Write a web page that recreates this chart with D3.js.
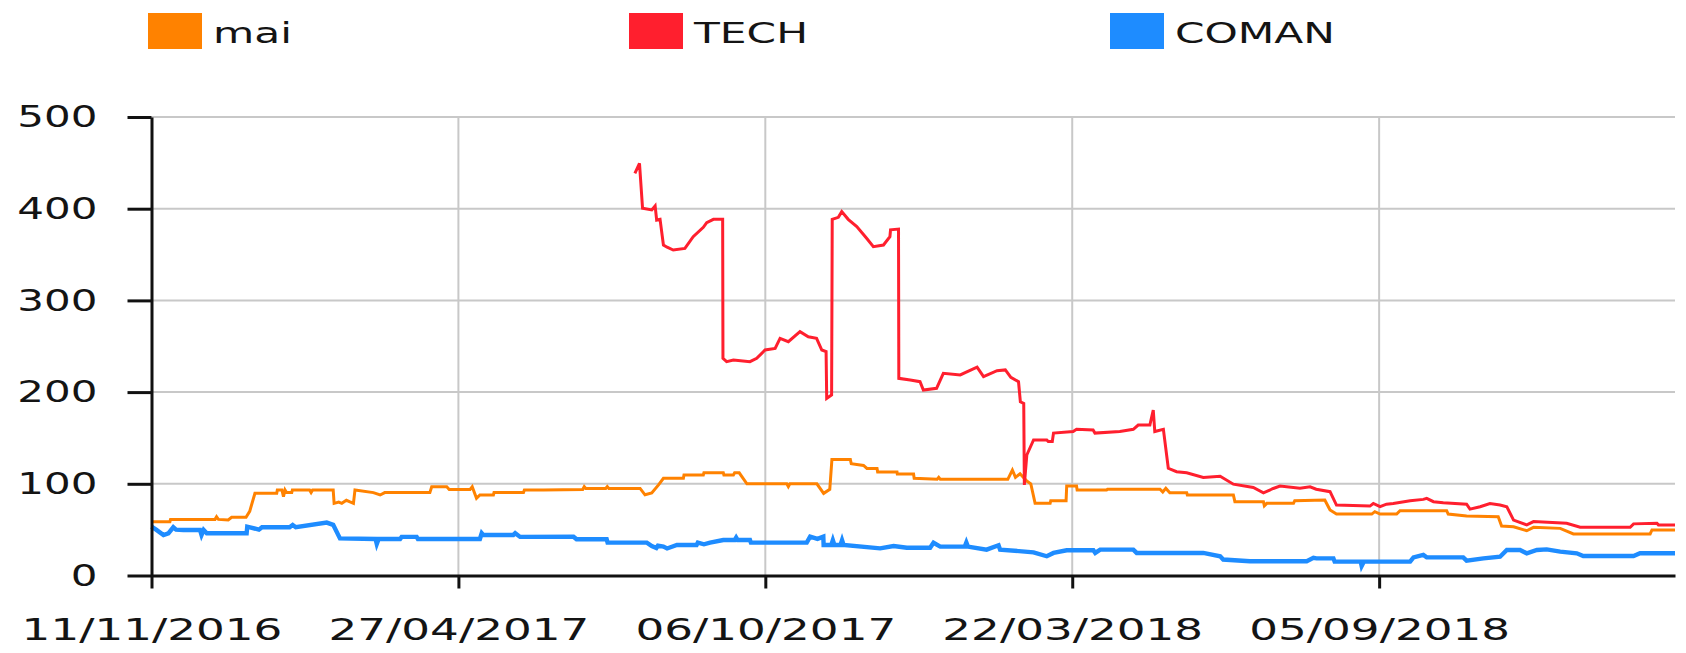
<!DOCTYPE html>
<html>
<head>
<meta charset="utf-8">
<script src="https://cdn.jsdelivr.net/npm/d3@7"></script>
<style>
  html, body { margin: 0; padding: 0; background: #fff; }
  svg { display: block; }
  text { font-family: "DejaVu Sans", Verdana, sans-serif; fill: #141414; }
</style>
</head>
<body>
<svg id="chart" width="1686" height="653"></svg>
<script>
// ---- data (x = trading-day index, y = value) ----
const seriesNames = ["mai", "TECH", "COMAN"];
const seriesColors = ["#ff8200", "#ff1f2e", "#1e8cff"];

const xTickIndex = [0, 100, 200, 300, 400];
const xTickLabels = ["11/11/2016", "27/04/2017", "06/10/2017", "22/03/2018", "05/09/2018"];
const yTicks = [0, 100, 200, 300, 400, 500];
const xMaxIndex = 496.4;

const maiValues = [
  [0,58.7],[6,58.7],[6.2,61.2],[20.7,61.2],[21.2,64],[21.8,61.2],[25,60.5],[26.1,63.4],[30.8,63.4],[32,70],
  [33.7,89.6],[40.8,89.6],[41,93.3],[42.5,93.3],[43,86],[43.5,93.3],[44,90.4],[45.7,90.4],[45.9,93.3],[51.5,93.3],
  [52,90.4],[52.5,93.3],[59.2,93.3],[59.5,78.7],[61,80],[62,78.7],[63.5,82],[64.5,80.5],[65.8,78.7],[66.3,93.3],
  [72.3,90.4],[74.5,87.8],[76,90.4],[90.7,90.4],[91.3,96.8],[96.2,96.8],[97,93.9],[103.8,93.9],[104.5,96.8],
  [105.9,84.2],[107,87.8],[111.4,87.8],[111.6,90.4],[121.2,90.4],[121.5,93.3],[127.7,93.2],[140.5,93.9],
  [141,97],[141.5,95],[148,95],[148.5,97],[149,95],[159.2,95],[160.8,88],[163,90],[165.2,98.8],[166.8,106],
  [173.3,106],[173.5,109.6],[179.8,109.6],[180,112.1],[186.3,112.1],[186.5,109.6],[189.6,109.6],[190,112],
  [191.5,112],[194,100],[207,100],[207.5,97],[208,100],[216.8,100],[219,89.6],[221,94],[221.7,126.6],
  [227.7,126.6],[228,122],[232,120],[233.1,116.8],[236.4,116.8],[236.6,113],[242.9,113],[243,110.6],
  [248.3,110.6],[248.5,106],[256,105],[256.5,107],[257,105],[279,104.9],[280.5,115],[281.5,107],[283,111],
  [285.2,103],[286.5,100],[287.9,78.7],[292.8,78.7],[293,81.6],[298,81.6],[298.2,97.7],[301.4,97.7],
  [301.6,93.2],[311.2,93.2],[311.5,94],[328.6,94],[329.5,91],[330.5,95],[331.8,90.3],[337.3,90.3],
  [337.5,87.8],[352.5,87.8],[353,80.5],[362.3,80.5],[362.6,76],[363.4,78.7],[372.1,78.7],[372.5,81.6],
  [382.3,82.3],[384,71.4],[386.1,67],[397.6,67],[398.6,69.6],[400.3,67],[405.7,67],[406.8,70.7],[422,70.7],
  [422.5,67],[428.5,64.8],[438.8,64.1],[439.9,53.9],[443.8,53.2],[448.1,48.8],[450.3,52.5],[459,51.4],
  [463.3,45.3],[488.3,45.3],[488.9,49.7],[496.4,49.7]
];

const techValues = [
  [157.5,438.6],[159,449.5],[160,400.4],[163,398.6],[164.1,403],[164.6,387.6],[165.7,388.4],[166.8,360.4],
  [168,358],[170,354.9],[173.8,356.7],[176.5,369.5],[179.8,379.7],[180.9,384.8],[183.1,388.4],[186.1,388.4],
  [186.2,236.8],[187.4,233.2],[189.6,235],[195,233.2],[197.2,236.8],[199.9,245.9],[203.2,247.7],[204.8,258.6],
  [207.5,255],[211.3,265.9],[214,260.4],[216.7,258.6],[218.4,245.9],[219.8,244.1],[220,193.2],[221.6,196.9],
  [221.8,388.4],[223.8,390.6],[224.9,396.8],[227,388.4],[229.8,380.5],[233,367.7],[235.2,358.6],[238.5,360.4],
  [240.6,369.5],[240.8,377],[243.4,377.8],[243.5,215],[247.2,213.2],[250.4,211.4],[251.5,202.2],[255.8,204.1],
  [258,220.5],[263.5,218.7],[269,227.1],[271.1,216.8],[275.5,223.4],[278.2,224.2],[280,216],[282.5,211.3],
  [283.1,189.5],[284.2,187.7],[284.4,98.7],[285.2,131.4],[287.4,147.8],[291.7,147.8],[292.2,146],[293.5,146],
  [293.9,155.3],[300.3,157],[301.4,159.4],[306.8,158.7],[307.4,155.3],[315.5,157],[319.9,159.4],[321.5,164.1],
  [325.3,164.1],[326.4,180.5],[326.9,157],[329.7,159.4],[331.3,116.9],[334,113.2],[337.3,112],[342.7,106.9],
  [348.2,108.3],[352.5,99.6],[359,96],[362.3,90.2],[365.5,94.9],[367.7,97.5],[374.2,95.1],[377.5,96.8],
  [379.5,94.1],[384,91.4],[386.1,76.8],[397,75.7],[398.1,78.5],[400.3,75],[402.4,77.8],[404.6,78.5],
  [410.1,81.6],[414.4,83],[415.5,84.1],[417.7,80.5],[420.9,79.4],[428.5,77.8],[429.6,72.4],[432.9,75],
  [436.1,78.5],[439.4,76.8],[441.6,75],[443.8,60.4],[448.1,55.2],[450.3,58.8],[461.1,57],[465.5,52.6],
  [481.8,52.6],[482.9,56.3],[490.5,57],[491,55.2],[496.4,55.2]
];

const comanValues = [
  [0,53.3],[1.5,50],[3.9,44.2],[5.5,46],[7.1,52.6],[8,50],[10.4,49.7],[15.8,49.7],[16.3,44.2],[17,49.7],
  [18,46.1],[31,46.1],[31.2,53.3],[32.1,52.6],[35,50],[36,52.6],[45,52.6],[46,55],[47,52.6],[57.1,57.7],
  [59.2,55.2],[61.4,40.5],[73,39.8],[73.4,34.4],[74,39.8],[81,39.8],[81.5,42.1],[86.4,42.1],[86.8,39.8],
  [107,39.8],[107.6,46.1],[108.1,44.2],[117.9,44.2],[118.5,46.1],[120.1,42.1],[137.5,42.3],[138.5,39.5],
  [148.3,39.5],[148.6,35.8],[161.4,35.8],[163,32.2],[164.5,30],[165,32.5],[166.8,31.5],[168,29.5],
  [171.2,33.3],[177.6,33.3],[178,35.8],[180,34],[182,35.8],[186.3,38.7],[190,38.7],[190.5,41.5],[191,38.7],
  [195,38.7],[195.3,35.8],[213.5,35.8],[214.6,42.3],[217,40],[218.9,42.3],[219,33.3],[221.5,33.3],[222,38.5],
  [222.5,33.3],[224.5,33.3],[225,38.5],[225.5,33.3],[237.4,29.6],[241.8,32.2],[246.1,30.3],[253.7,30.3],
  [254.8,35.7],[257,31.5],[265,31.5],[265.5,36],[266,31.5],[272.1,28.2],[276,33],[276.5,28.2],[287.4,25.3],
  [291.7,21],[293.9,24.6],[298.2,27.5],[306.9,27.5],[307.5,24.6],[309.1,28.2],[319.9,28.2],[321,24.6],
  [342.7,24.6],[348.2,21],[349.2,17.4],[357.9,15.6],[376.4,15.6],[378.6,19.2],[379.6,18.7],[385.1,18.7],
  [385.5,15.1],[394,15.1],[394.3,10.4],[395,15.1],[410.1,15.1],[411.2,19.8],[414.4,22.4],[415.5,19.8],
  [427.4,19.8],[428.5,16.2],[434,18.7],[439.4,20.5],[441.6,27.8],[445.9,27.8],[448.1,24.2],[451.4,27.8],
  [454.6,28.5],[459,26],[464.4,24.2],[466.5,21.3],[482.9,21.3],[485,24.2],[496.4,24.2]
];

const allSeries = [maiValues, techValues, comanValues];

// ---- layout ----
const svg = d3.select("#chart");
const TX = 1.46; // horizontal text stretch seen in the reference
const TY = 1.40; // stretch for the y tick labels
const x = d3.scaleLinear().domain([0, xMaxIndex]).range([151.5, 1675]);
const y = d3.scaleLinear().domain([0, 500]).range([575.5, 117]);

// gridlines
const grid = svg.append("g");
grid.selectAll("line.h").data(yTicks.filter(d => d > 0)).join("line")
  .attr("x1", x(0)).attr("x2", x(xMaxIndex))
  .attr("y1", d => y(d)).attr("y2", d => y(d))
  .attr("stroke", "#c8c8c8").attr("stroke-width", 2);
grid.selectAll("line.v").data(xTickIndex.filter(d => d > 0)).join("line")
  .attr("x1", d => x(d)).attr("x2", d => x(d))
  .attr("y1", y(0)).attr("y2", y(500))
  .attr("stroke", "#c8c8c8").attr("stroke-width", 2);

// lines
const line = d3.line().x(d => x(d[0])).y(d => y(d[1]));
const widths = [3, 3, 4.4];
allSeries.forEach((s, i) => {
  svg.append("path").datum(s)
    .attr("d", line)
    .attr("fill", "none")
    .attr("stroke", seriesColors[i])
    .attr("stroke-width", widths[i])
    .attr("stroke-linejoin", "miter");
});

// axes
const yAxis = svg.append("g").attr("transform", `translate(${x(0)},0)`)
  .call(d3.axisLeft(y).tickValues(yTicks).tickSize(24).tickSizeOuter(0).tickPadding(30).tickFormat(d3.format("d")));
const xAxis = svg.append("g").attr("transform", `translate(0,${y(0)})`)
  .call(d3.axisBottom(x).tickValues(xTickIndex).tickSize(13).tickSizeOuter(0)
    .tickFormat((d, i) => xTickLabels[i]));

[yAxis, xAxis].forEach(g => {
  g.selectAll("path, line").attr("stroke", "#111").attr("stroke-width", 3);
  g.selectAll("text").attr("fill", "#141414").style("font-family", '"DejaVu Sans", Verdana, sans-serif');
});
yAxis.selectAll("text")
  .attr("font-size", 30)
  .attr("x", -54 / TY)
  .attr("transform", `scale(${TY},1)`);
xAxis.selectAll("text")
  .attr("font-size", 31)
  .attr("y", 64.5).attr("dy", 0)
  .attr("transform", `scale(${TX},1)`)
  .attr("x", 0);

// legend
const legendX = [148, 629, 1110];
const legend = svg.append("g");
seriesNames.forEach((name, i) => {
  legend.append("rect")
    .attr("x", legendX[i]).attr("y", 13)
    .attr("width", 54).attr("height", 36)
    .attr("fill", seriesColors[i]);
  legend.append("text")
    .attr("transform", `translate(${legendX[i] + 65},43) scale(${TX},1)`)
    .attr("font-size", 29)
    .text(name);
});
</script>
</body>
</html>
